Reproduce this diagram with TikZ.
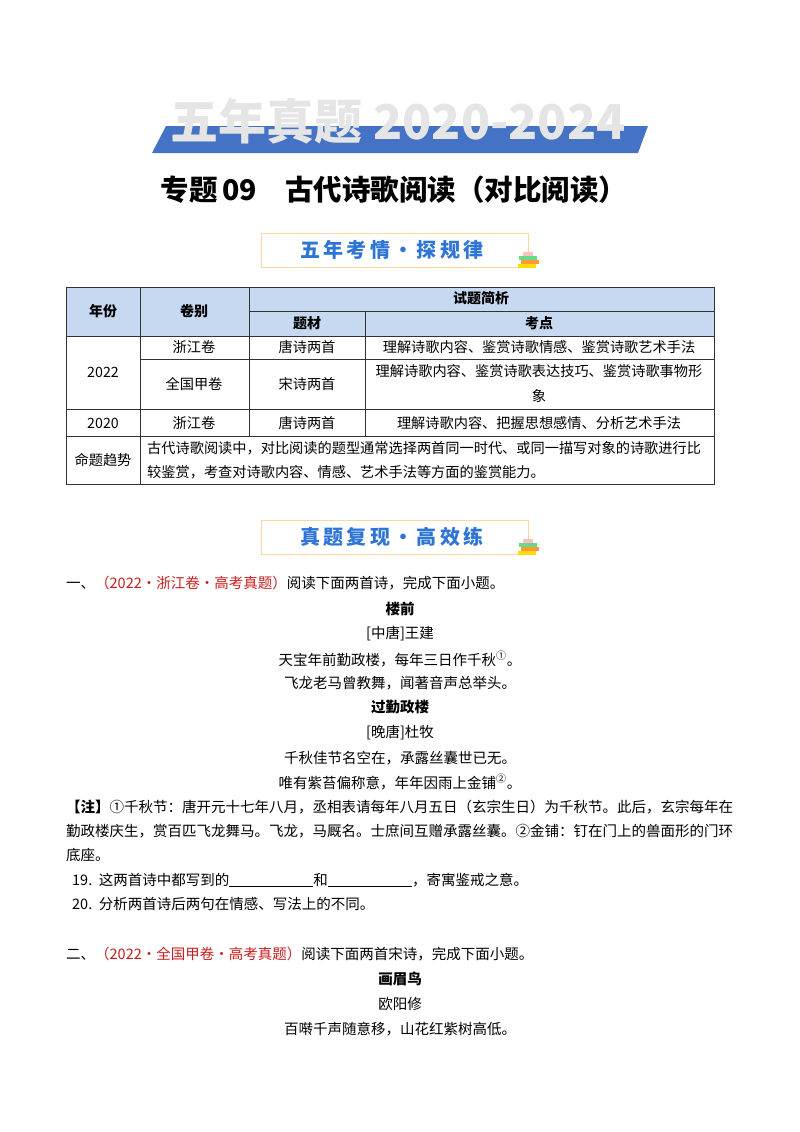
\documentclass[tikz,border=0pt]{standalone}
\usepackage{fontspec}
\setmainfont{Noto Sans CJK SC}
\definecolor{bannerblue}{RGB}{68,114,196}
\definecolor{hdrfill}{RGB}{198,217,241}
\definecolor{boxtext}{RGB}{46,117,214}
\definecolor{boxline}{RGB}{250,214,160}
\definecolor{srcred}{RGB}{200,30,30}
\tikzset{
  body/.style={font=\fontsize{14.5}{17}\selectfont, inner sep=0pt, anchor=west},
  cen/.style={font=\fontsize{14.5}{17}\selectfont, inner sep=0pt},
  cenb/.style={font=\fontsize{14.5}{17}\selectfont\bfseries, inner sep=0pt},
  cell/.style={font=\fontsize{14.2}{16}\selectfont, inner sep=0pt},
  hcell/.style={font=\fontsize{14}{16}\selectfont\bfseries, inner sep=0pt},
  tline/.style={line width=0.8pt, black!80},
  tagbox/.style={draw=boxline, line width=1pt, fill=white},
  tagtext/.style={font=\fontsize{20}{22}\selectfont\bfseries, text=boxtext, inner sep=0pt}
}
\newcommand{\supmark}[1]{\textsuperscript{#1}}
\begin{document}
\begin{tikzpicture}[x=1pt,y=-1pt]
\useasboundingbox (0,0) rectangle (800,1132);
\fill[white] (0,0) rectangle (800,1132);
% banner
\fill[bannerblue] (166,126) -- (648,126) -- (638,153) -- (152,153) -- cycle;
\node[font=\fontsize{48}{50}\selectfont\bfseries, text=gray!20, inner sep=0pt] (ban) at (398,121) {五年真题 2020-2024};
\node[font=\fontsize{28.5}{30}\selectfont\bfseries, inner sep=0pt] (title) at (394,190) {专题\,09\quad 古代诗歌阅读（对比阅读）};
% tag box 1
\draw[tagbox] (261,233) rectangle (528,267);
\node[tagtext] (tag1) at (392,250) {五\,年\,考\,情\,·\,探\,规\,律};
\fill[green!50!teal!60] (519,256) rectangle (537,260);
\fill[orange!80] (521,260) rectangle (539,264);
\fill[yellow!80!orange] (518,264) rectangle (536,268);
\fill[pink] (523,252) rectangle (533,256);
% table
\fill[hdrfill] (66,287) rectangle (714,336);
\draw[tline] (66,287) rectangle (714,484);
\draw[tline] (140,287) -- (140,484);
\draw[tline] (249,311) -- (714,311);
\draw[tline] (249,287) -- (249,436);
\draw[tline] (365,311) -- (365,436);
\draw[tline] (66,336) -- (714,336);
\draw[tline] (140,359) -- (714,359);
\draw[tline] (66,409) -- (714,409);
\draw[tline] (66,436) -- (714,436);
\node[hcell] (h1) at (103,311) {年份};
\node[hcell] (h2) at (194,311) {卷别};
\node[hcell] (h3) at (481,298) {试题简析};
\node[hcell] (h4) at (307,323) {题材};
\node[hcell] (h5) at (539,323) {考点};
\node[cell] (y22) at (103,372) {2022};
\node[cell] at (194,347) {浙江卷};
\node[cell] at (307,347) {唐诗两首};
\node[cell] at (539,347) {理解诗歌内容、鉴赏诗歌情感、鉴赏诗歌艺术手法};
\node[cell] at (194,384) {全国甲卷};
\node[cell] at (307,384) {宋诗两首};
\node[cell] at (539,371) {理解诗歌内容、鉴赏诗歌表达技巧、鉴赏诗歌事物形};
\node[cell] at (539,396) {象};
\node[cell] (y20) at (103,423) {2020};
\node[cell] at (194,423) {浙江卷};
\node[cell] at (307,423) {唐诗两首};
\node[cell] at (539,423) {理解诗歌内容、把握思想感情、分析艺术手法};
\node[cell] at (103,460) {命题趋势};
\node[cell, anchor=west] at (147,448) {古代诗歌阅读中，对比阅读的题型通常选择两首同一时代、或同一描写对象的诗歌进行比};
\node[cell, anchor=west] at (147,472) {较鉴赏，考查对诗歌内容、情感、艺术手法等方面的鉴赏能力。};
% tag box 2
\draw[tagbox] (261,520) rectangle (528,554);
\node[tagtext] (tag2) at (392,537) {真\,题\,复\,现\,·\,高\,效\,练};
\fill[green!50!teal!60] (519,543) rectangle (537,547);
\fill[orange!80] (521,547) rectangle (539,551);
\fill[yellow!80!orange] (518,551) rectangle (536,555);
\fill[pink] (523,539) rectangle (533,543);
% section 1
\node[body] (q1) at (66,583) {一、\textcolor{srcred}{（2022·浙江卷·高考真题）}阅读下面两首诗，完成下面小题。};
\node[cenb] (p1) at (400,609) {楼前};
\node[cen] at (400,634) {[中唐]王建};
\node[cen] at (400,659) {天宝年前勤政楼，每年三日作千秋\supmark{①}。};
\node[cen] at (400,683) {飞龙老马曾教舞，闻著音声总举头。};
\node[cenb] (p2) at (400,707) {过勤政楼};
\node[cen] at (400,733) {[晚唐]杜牧};
\node[cen] at (400,758) {千秋佳节名空在，承露丝囊世已无。};
\node[cen] at (400,782) {唯有紫苔偏称意，年年因雨上金铺\supmark{②}。};
\node[body] at (66,807) {\textbf{【注】}①千秋节：唐开元十七年八月，丞相表请每年八月五日（玄宗生日）为千秋节。此后，玄宗每年在};
\node[body] at (66,831) {勤政楼庆生，赏百匹飞龙舞马。飞龙，马厩名。士庶间互赠承露丝囊。②金铺：钉在门上的兽面形的门环};
\node[body] at (66,855) {底座。};
\node[body] (q19) at (72,880) {19.\ \ 这两首诗中都写到的\underline{\hspace{5.8em}}和\underline{\hspace{5.8em}}，寄寓鉴戒之意。};
\node[body] (q20) at (72,904) {20.\ \ 分析两首诗后两句在情感、写法上的不同。};
% section 2
\node[body] (q2) at (66,954) {二、\textcolor{srcred}{（2022·全国甲卷·高考真题）}阅读下面两首宋诗，完成下面小题。};
\node[cenb] (p3) at (400,979) {画眉鸟};
\node[cen] at (400,1004) {欧阳修};
\node[cen] at (400,1029) {百啭千声随意移，山花红紫树高低。};
\end{tikzpicture}
\end{document}
